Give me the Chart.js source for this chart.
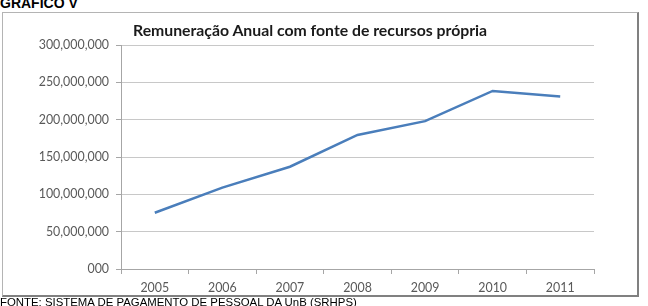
<!DOCTYPE html>
<html>
<head>
<meta charset="utf-8">
<script src="https://cdn.jsdelivr.net/npm/chart.js@4.4.0/dist/chart.umd.min.js"></script>
<style>
  html, body { margin: 0; padding: 0; background: #fff; }
  body { width: 648px; height: 306px; position: relative; overflow: hidden; }
  #head { position: absolute; left: 0; top: -4px; font: bold 14px "Liberation Sans", Arial, sans-serif; line-height: 14px; color: #000; white-space: nowrap; }
  #box { position: absolute; left: 2px; top: 12px; width: 634px; height: 282px; border-top: 1px solid #b4b4b4; border-left: 1px solid #b4b4b4; border-right: 2px solid #808080; border-bottom: 2px solid #808080; box-sizing: content-box; }
  #title { position: absolute; left: 133px; top: 20px; font: bold 15.8px Lato, sans-serif; color: #1a1a1a; white-space: nowrap; }
  #foot { position: absolute; left: 0; top: 297px; font: 11.4px "Liberation Sans", Arial, sans-serif; line-height: 11px; color: #000; white-space: nowrap; }
  #c { position: absolute; left: 0; top: 0; }
</style>
</head>
<body>
<div id="head">GRÁFICO V</div>
<div id="box"></div>
<canvas id="c" width="648" height="306"></canvas>
<div id="title">Remuneração Anual com fonte de recursos própria</div>
<div id="foot">FONTE: SISTEMA DE PAGAMENTO DE PESSOAL DA UnB (SRHPS)</div>
<script>
const years = ['2005', '2006', '2007', '2008', '2009', '2010', '2011'];
const remuneracao = [75300000, 109000000, 137000000, 179500000, 198000000, 238500000, 231000000];
const yTickLabels = ['000', '50,000,000', '100,000,000', '150,000,000', '200,000,000', '250,000,000', '300,000,000'];

const tickFont = { family: 'Lato, sans-serif', size: 12.4 };

new Chart(document.getElementById('c'), {
  type: 'line',
  data: {
    labels: years,
    datasets: [{
      data: remuneracao,
      borderColor: '#4a7ebb',
      borderWidth: 2.5,
      pointRadius: 0,
      tension: 0,
      fill: false
    }]
  },
  options: {
    responsive: false,
    animation: false,
    layout: { padding: { left: 0, right: 54, top: 45, bottom: 0 } },
    plugins: { legend: { display: false }, title: { display: false }, tooltip: { enabled: false } },
    scales: {
      x: {
        offset: true,
        grid: { display: true, drawOnChartArea: false, offset: true, tickLength: 5, color: '#a6a6a6', lineWidth: 1 },
        border: { display: true, color: '#a6a6a6', width: 1 },
        ticks: { color: '#595959', font: tickFont, padding: 7, maxRotation: 0 },
        afterFit: (s) => { s.height = 37; }
      },
      y: {
        min: 0, max: 300000000,
        grid: { color: '#c8c8c8', lineWidth: 1, tickLength: 5, tickColor: '#a6a6a6' },
        border: { display: true, color: '#a6a6a6', width: 1 },
        ticks: {
          stepSize: 50000000, color: '#595959', font: tickFont, padding: 7,
          callback: (v, i) => yTickLabels[i]
        },
        afterFit: (s) => { s.width = 121; }
      }
    }
  }
});
</script>
</body>
</html>
